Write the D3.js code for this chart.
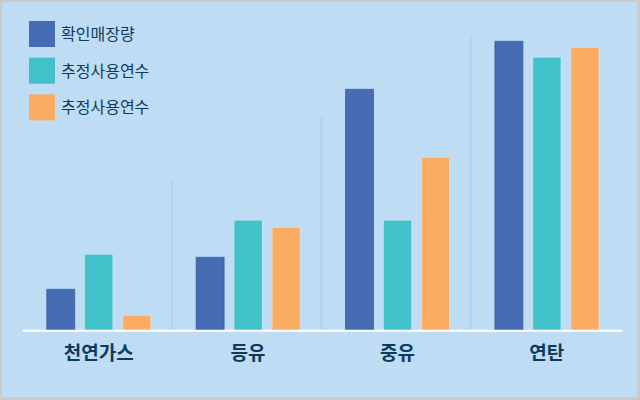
<!DOCTYPE html>
<html><head><meta charset="utf-8">
<script src="https://cdn.jsdelivr.net/npm/d3@7"></script>
<style>html,body{margin:0;padding:0;background:#c9c9c9;}svg{display:block;}</style>
</head><body>
<svg id="c" width="640" height="400"></svg>
<script>
const categories = ["천연가스", "등유", "중유", "연탄"];
const seriesNames = ["확인매장량", "추정사용연수", "추정사용연수"];
const seriesA = [41, 73, 241, 289];
const seriesB = [76, 110, 110, 273];
const seriesC = [15, 103, 173, 283];
const dividerTops = [151, 213, 296];
const colors = ["#466DB3", "#41C1CA", "#FAAD62"];

const svg = d3.select("#c");
svg.append("rect").attr("x", 0).attr("y", 0).attr("width", 640).attr("height", 400).attr("fill", "#cbcbcb");
svg.append("rect").attr("x", 2).attr("y", 2).attr("width", 635).attr("height", 395).attr("fill", "#BEDCF3");

const x0 = d3.scaleBand().domain(categories).range([24, 621.5]).padding(0);
const x1 = d3.scaleBand().domain([0, 1, 2]).range([22.75, 126.75]).paddingInner(10 / 38).paddingOuter(0);
const y = d3.scaleLinear().domain([0, 300]).range([330.3, 30.3]);

// dividers
svg.append("g").selectAll("line").data(dividerTops).join("line")
  .attr("x1", (d, i) => x0(categories[i + 1]) - 1.5)
  .attr("x2", (d, i) => x0(categories[i + 1]) - 1.5)
  .attr("y1", d => y(d)).attr("y2", y(0))
  .attr("stroke", "#A9CEEA").attr("stroke-width", 1.2);

const series = [seriesA, seriesB, seriesC];
const rows = categories.map((c, i) => ({ c, vals: series.map(s => s[i]) }));
const g = svg.append("g").selectAll("g").data(rows).join("g")
  .attr("transform", d => `translate(${x0(d.c)},0)`);
g.selectAll("rect").data(d => d.vals.map((v, k) => ({ v, k }))).join("rect")
  .attr("x", d => x1(d.k)).attr("width", x1.bandwidth())
  .attr("y", d => y(d.v)).attr("height", d => y(0) - y(d.v))
  .attr("fill", d => colors[d.k])
  .attr("stroke", d => d.k === 0 ? "rgba(40,80,150,0.6)" : "rgba(255,255,255,0.3)")
  .attr("stroke-width", 1);

// baseline
svg.append("line").attr("x1", 23).attr("x2", 622).attr("y1", y(0) + 0.5).attr("y2", y(0) + 0.5)
  .attr("stroke", "#ffffff").attr("stroke-width", 2);

// category labels
svg.append("g").selectAll("text").data(categories).join("text")
  .attr("x", d => x0(d) + x0.bandwidth() / 2).attr("y", 360)
  .attr("text-anchor", "middle")
  .attr("font-family", "'Noto Sans CJK KR', 'Noto Sans', sans-serif")
  .attr("font-weight", "bold").attr("font-size", 19).attr("fill", "#0E3A5C")
  .text(d => d);

// legend
const lg = svg.append("g").selectAll("g").data(seriesNames).join("g")
  .attr("transform", (d, i) => `translate(29,${21 + i * 36.7})`);
lg.append("rect").attr("width", 26).attr("height", 26).attr("fill", (d, i) => colors[i]);
lg.append("text").attr("x", 32).attr("y", 19)
  .attr("font-family", "'Noto Sans CJK KR', 'Noto Sans', sans-serif")
  .attr("font-size", 16).attr("fill", "#0E3A5C").text(d => d);
</script>
</body></html>
